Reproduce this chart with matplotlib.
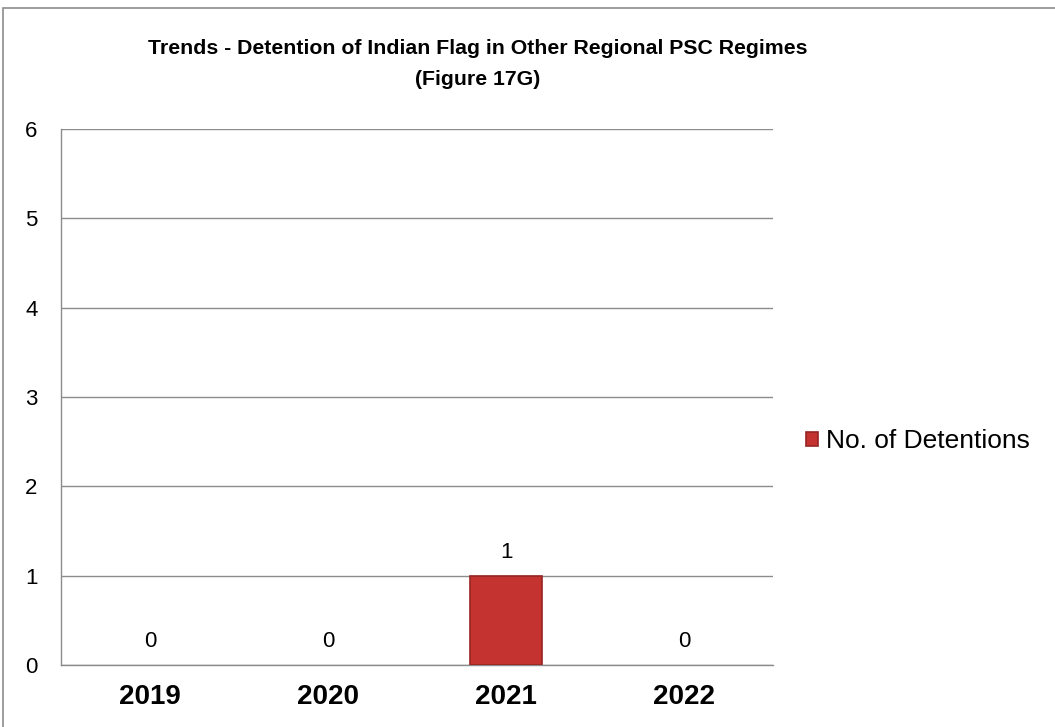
import matplotlib

matplotlib.use("Agg")
import matplotlib.pyplot as plt
import numpy as np
from matplotlib.patches import Rectangle

years = ["2019", "2020", "2021", "2022"]
detentions = [0, 0, 1, 0]
series_label = "No. of Detentions"
title = "Trends - Detention of Indian Flag in Other Regional PSC Regimes\n(Figure 17G)"

fig = plt.figure(figsize=(10.55, 7.27), dpi=100)
fig.patch.set_facecolor("white")

# outer chart-area border (runs off the right and bottom edges)
fig.patches.append(Rectangle((3 / 1055, -0.05), 1.2, 1 - 8 / 727 + 0.05,
                             transform=fig.transFigure, fill=False,
                             edgecolor="#8c8c8c", linewidth=1.2))

ax = fig.add_axes([61 / 1055, 1 - 665 / 727, 712 / 1055, 536 / 727])
x = np.arange(len(years))
bars = ax.bar(x, detentions, width=0.4, color="#c4332f", edgecolor="#962521",
              linewidth=1.2, label=series_label, zorder=3)
for b, v in zip(bars, detentions):
    if v == 0:
        b.set_visible(False)

for xi, v in zip(x, detentions):
    ax.annotate(str(v), xy=(xi, v), xytext=(0, 17), textcoords="offset points",
                ha="center", va="center", fontsize=16, family="Liberation Sans",
                color="black")

ax.set_xlim(-0.5, len(years) - 0.5)
ax.set_ylim(0, 6)
ax.set_yticks(range(0, 7))
ax.yaxis.grid(True, color="#8c8c8c", linewidth=1.0, zorder=0)
ax.set_axisbelow(True)
ax.set_xticks(x)
ax.set_xticklabels(years, fontsize=20, family="Liberation Sans", fontweight="bold")
for lab in ax.get_yticklabels():
    lab.set_fontsize(16)
    lab.set_family("Liberation Sans")
ax.tick_params(axis="both", length=0)
ax.tick_params(axis="y", pad=17)
ax.tick_params(axis="x", pad=14)
for side in ("top", "right"):
    ax.spines[side].set_visible(False)
for side in ("left", "bottom"):
    ax.spines[side].set_color("#8c8c8c")
    ax.spines[side].set_linewidth(1.0)

fig.text(478 / 1055, 1 - 64 / 727, title, ha="center", va="center",
         fontsize=15.3, fontweight="bold", family="Liberation Sans",
         linespacing=1.75)

leg = fig.legend(handles=[bars[2]], labels=[series_label], loc="center left",
                 bbox_to_anchor=(782 / 1055, 1 - 441 / 727), frameon=False,
                 prop={"family": "Liberation Sans", "size": 19},
                 handlelength=0.45, handleheight=0.45, handletextpad=0.3)

fig.savefig("out.png", dpi=100)
